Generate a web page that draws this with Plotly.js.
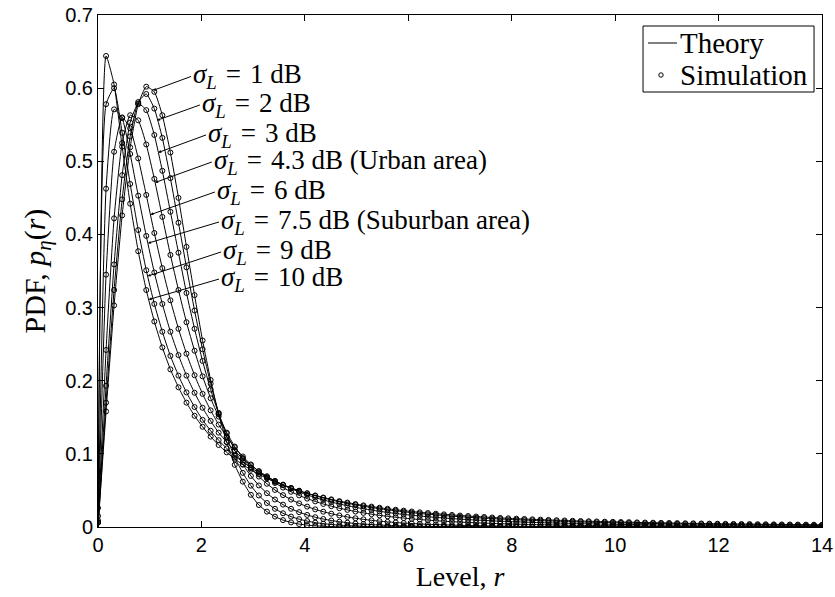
<!DOCTYPE html>
<html><head><meta charset="utf-8">
<script src="https://cdn.plot.ly/plotly-3.0.1.min.js"></script>
<style>html,body{margin:0;padding:0;background:#fff}</style>
</head><body>
<div id="chart" style="width:835px;height:597px"></div>
<script>
const level = [0,0.156,0.311,0.467,0.622,0.778,0.933,1.089,1.244,1.4,1.556,1.711,1.867,2.022,2.178,2.333,2.489,2.644,2.8,2.956,3.111,3.267,3.422,3.578,3.733,3.889,4.044,4.2,4.356,4.511,4.667,4.822,4.978,5.133,5.289,5.444,5.6,5.756,5.911,6.067,6.222,6.378,6.533,6.689,6.844,7,7.156,7.311,7.467,7.622,7.778,7.933,8.089,8.244,8.4,8.556,8.711,8.867,9.022,9.178,9.333,9.489,9.644,9.8,9.956,10.111,10.267,10.422,10.578,10.733,10.889,11.044,11.2,11.356,11.511,11.667,11.822,11.978,12.133,12.289,12.444,12.6,12.756,12.911,13.067,13.222,13.378,13.533,13.689,13.844,14];

const pdf1dB = [0,.158,.303,.426,.519,.578,.602,.595,.563,.512,.450,
.383,.317,.255,.201,.154,.116,.085,.062,.044,.030,
.021,.0142,.0094,.0063,.0040,.0026,.0016,.0010,.0006,.0004,
.0002,.0001,.0001,0,0,0,0,0,0,0,
0,0,0,0,0,0,0,0,0,0,0,0,0,0,0,0,0,0,0,0,0,0,0,0,0,0,0,0,0,0,0,0,0,0,0,0,0,0,0,0,0,0,0,0,0,0,0,0,0,0];
const pdf2dB = [0,.170,.324,.448,.534,.581,.592,.572,.532,.477,.416,
.355,.296,.243,.196,.156,.123,.095,.074,.0565,.0431,
.0328,.0249,.0188,.0142,.0107,.0081,.0060,.0045,.0034,.0025,
.0018,.0014,.0010,.0007,.0005,.0004,.0003,.0002,.0002,.0001,
.0001,.0001,.0001,.0001,0,0,0,0,0,0,
0,0,0,0,0,0,0,0,0,0,0,0,0,0,0,0,0,0,0,0,0,0,0,0,0,0,0,0,0,0,0,0,0,0,0,0,0,0,0,0];
const pdf3dB = [0,.193,.359,.481,.553,.579,.570,.536,.487,.431,.375,
.320,.271,.227,.188,.155,.128,.105,.0856,.0698,.0568,
.0462,.0376,.0306,.0249,.0203,.0165,.0134,.0109,.0089,.0072,
.0059,.0048,.0040,.0033,.0027,.0022,.0018,.0015,.0012,.0010,
.0008,.0007,.0006,.0005,.0004,.0003,.0003,.0002,.0002,.0002,
.0001,.0001,.0001,.0001,.0001,0,0,0,0,0,
0,0,0,0,0,0,0,0,0,0,0,0,0,0,0,0,0,0,0,0,0,0,0,0,0,0,0,0,0,0];
const pdf4p3dB = [0,.242,.422,.525,.563,.556,.523,.476,.424,.372,.324,
.280,.241,.206,.176,.151,.129,.110,.0941,.0805,.0689,
.0591,.0507,.0436,.0375,.0323,.0279,.0241,.0209,.0182,.0158,
.0138,.0120,.0105,.0091,.0080,.0070,.0062,.0054,.0048,.0042,
.0037,.0033,.0029,.0026,.0023,.0020,.0018,.0016,.0014,.0013,
.0011,.0010,.0009,.0008,.0007,.0007,.0006,.0005,.0005,.0004,
.0004,.0003,.0003,.0003,.0002,.0002,.0002,.0002,.0002,.0002,
.0001,.0001,.0001,.0001,.0001,.0001,.0001,.0001,.0001,.0001,
.0001,.0001,0,0,0,0,0,0,0,0];
const pdf6dB = [0,.345,.513,.560,.545,.504,.454,.402,.354,.310,.271,
.237,.2075,.182,.1595,.140,.1235,.109,.0964,.0855,.0759,
.0676,.0602,.0539,.0482,.0432,.0388,.0350,.0315,.0285,.0257,
.0234,.0212,.0193,.0175,.0159,.0146,.0133,.0122,.0111,.0102,
.0094,.0086,.0079,.0073,.0067,.0062,.0057,.0053,.0049,.0045,
.0042,.0039,.0036,.0034,.0031,.0029,.0027,.0025,.0023,.0022,
.0020,.0019,.0018,.0017,.0016,.0015,.0014,.0013,.0012,.0011,
.0011,.0010,.0009,.0009,.0008,.0008,.0007,.0007,.0007,.0006,
.0006,.0005,.0005,.0005,.0005,.0004,.0004,.0004,.0004,.0003];
const pdf7p5dB = [0,.4625,.571,.559,.510,.453,.398,.348,.305,.267,.235,
.207,.1835,.163,.145,.129,.116,.104,.0936,.0845,.0764,
.0694,.0630,.0575,.0524,.0480,.0439,.0403,.0370,.0341,.0314,
.0291,.0269,.0249,.0231,.0214,.0199,.0185,.0173,.0161,.0150,
.0140,.0131,.0123,.0115,.0108,.0101,.0095,.0090,.0084,.0079,
.0075,.0071,.0067,.0063,.0060,.0057,.0054,.0051,.0048,.0045,
.0043,.0041,.0039,.0037,.0035,.0034,.0032,.0031,.0029,.0027,
.0026,.0025,.0024,.0023,.0022,.0021,.0020,.0019,.0018,.0017,
.0017,.0016,.0015,.0015,.0014,.0013,.0013,.0012,.0012,.0011];
const pdf9dB = [0,.578,.600,.539,.469,.406,.351,.305,.267,.234,.207,
.184,.164,.1465,.1316,.1187,.1075,.0976,.0889,.0812,.0743,
.0683,.0628,.0580,.0535,.0496,.0459,.0427,.0397,.0370,.0345,
.0323,.0303,.0284,.0266,.0249,.0235,.0221,.0208,.0196,.0185,
.0175,.0166,.0157,.0148,.0141,.0134,.0127,.0121,.0115,.0109,
.0104,.0099,.0095,.0091,.0087,.0083,.0079,.0075,.0072,.0069,
.0066,.0063,.0061,.0058,.0056,.0054,.0052,.0049,.0048,.0046,
.0044,.0042,.0041,.0039,.0038,.0036,.0035,.0034,.0033,.0031,
.0030,.0029,.0028,.0027,.0026,.0025,.0024,.0024,.0023,.0022];
const pdf10dB = [0,.644,.605,.520,.442,.377,.324,.281,.2455,.2155,.191,
.170,.152,.137,.1236,.1121,.102,.0931,.0853,.0783,.0721,
.0666,.0616,.0572,.0531,.0495,.0461,.0431,.0403,.0378,.0354,
.0334,.0314,.0296,.0279,.0263,.0249,.0236,.0224,.0212,.0201,
.0191,.0182,.0173,.0165,.0157,.0150,.0143,.0137,.0130,.0124,
.0119,.0114,.0110,.0105,.0101,.0097,.0093,.0089,.0085,.0082,
.0079,.0076,.0073,.0071,.0068,.0066,.0063,.0061,.0059,.0057,
.0055,.0053,.0051,.0050,.0048,.0046,.0045,.0043,.0042,.0041,
.0040,.0038,.0037,.0036,.0035,.0034,.0033,.0032,.0031,.0030];

// first simulated bin (very small r) for each curve
const simAtZero = [.006, .006, .007, .009, .015, .026, .048, .074];
const sigmaLabels = ['1 dB','2 dB','3 dB','4.3 dB (Urban area)','6 dB','7.5 dB (Suburban area)','9 dB','10 dB'];
const legendLabels = ['Theory','Simulation'];

const curves = [pdf1dB,pdf2dB,pdf3dB,pdf4p3dB,pdf6dB,pdf7p5dB,pdf9dB,pdf10dB];

const SERIF = '"Liberation Serif","Times New Roman",serif';
const SANS = '"Liberation Sans",Arial,sans-serif';

const traces = [];
curves.forEach((ys,i)=>{
  traces.push({x:level,y:ys,type:'scatter',mode:'lines',
    line:{color:'#000',width:1,shape:'spline',smoothing:0.5},
    name:legendLabels[0],showlegend:false,hoverinfo:'skip'});
});
curves.forEach((ys,i)=>{
  const sim = ys.slice(); sim[0] = simAtZero[i];
  traces.push({x:level,y:sim,type:'scatter',mode:'markers',
    marker:{symbol:'circle-open',size:5,color:'#000',line:{width:1,color:'#222'}},
    name:legendLabels[1],showlegend:false,hoverinfo:'skip'});
});

// arrow geometry: tip on the curve, tail at the start of each label
const arrows = [
  {hx:1.07,hy:0.597,tx:1.80,ty:0.616},
  {hx:1.14,hy:0.556,tx:1.97,ty:0.577},
  {hx:1.165,hy:0.512,tx:2.09,ty:0.536},
  {hx:1.104,hy:0.471,tx:2.20,ty:0.499},
  {hx:1.014,hy:0.427,tx:2.26,ty:0.458},
  {hx:0.965,hy:0.388,tx:2.34,ty:0.417},
  {hx:0.96,hy:0.343,tx:2.38,ty:0.376},
  {hx:0.981,hy:0.311,tx:2.34,ty:0.339}
];
const SP = '\u2004';
const annotations = sigmaLabels.map((t,i)=>({
  xref:'x',yref:'y',axref:'x',ayref:'y',
  x:arrows[i].hx,y:arrows[i].hy,ax:arrows[i].tx,ay:arrows[i].ty,
  text:'<i>σ</i><sub><i>L</i></sub>'+SP+'='+SP+t,
  showarrow:true,arrowhead:2,arrowsize:0.6,arrowwidth:1,arrowcolor:'#000',
  xanchor:'left',yanchor:'middle',
  font:{family:SERIF,size:27,color:'#000'}
}));
// hand-built legend (inside the axes, top right)
annotations.push(
  {xref:'paper',yref:'paper',x:0.8011,y:0.9453,xanchor:'left',yanchor:'middle',showarrow:false,
   text:legendLabels[0],font:{family:SERIF,size:29,color:'#000'}},
  {xref:'paper',yref:'paper',x:0.8011,y:0.8828,xanchor:'left',yanchor:'middle',showarrow:false,
   text:legendLabels[1],font:{family:SERIF,size:29,color:'#000'}}
);
const shapes = [
  {type:'rect',xref:'paper',yref:'paper',x0:0.7528,x1:0.989,y0:0.8496,y1:0.9785,
   line:{color:'#000',width:1},fillcolor:'#fff',layer:'above'},
  {type:'line',xref:'paper',yref:'paper',x0:0.7597,x1:0.7997,y0:0.9453,y1:0.9453,
   line:{color:'#000',width:1},layer:'above'},
  {type:'circle',xref:'paper',yref:'paper',xsizemode:'pixel',ysizemode:'pixel',
   xanchor:0.7776,yanchor:0.8828,x0:-2.2,x1:2.2,y0:-2.2,y1:2.2,
   line:{color:'#000',width:1},layer:'above'}
];

const layout = {
  width:835,height:597,
  margin:{l:98,r:13,t:15,b:70},
  paper_bgcolor:'#fff',plot_bgcolor:'#fff',
  showlegend:false,
  xaxis:{range:[0,14],dtick:2,tick0:0,ticks:'inside',ticklen:6,tickcolor:'#000',
    showline:true,linecolor:'#000',linewidth:1,mirror:'ticks',showgrid:false,zeroline:false,
    tickfont:{family:SANS,size:20,color:'#000'},
    title:{text:'Level, <i>r</i>',font:{family:SERIF,size:28,color:'#000'},standoff:11}},
  yaxis:{range:[0,0.7],dtick:0.1,tick0:0,ticks:'inside',ticklen:6,tickcolor:'#000',
    showline:true,linecolor:'#000',linewidth:1,mirror:'ticks',showgrid:false,zeroline:false,
    tickfont:{family:SANS,size:20,color:'#000'},
    title:{text:'PDF, <i>p</i><sub><i>η</i></sub>(<i>r</i>)',font:{family:SERIF,size:30,color:'#000'},standoff:10}},
  annotations:annotations,
  shapes:shapes
};
Plotly.newPlot('chart',traces,layout,{displayModeBar:false,staticPlot:true});
</script>
</body></html>
